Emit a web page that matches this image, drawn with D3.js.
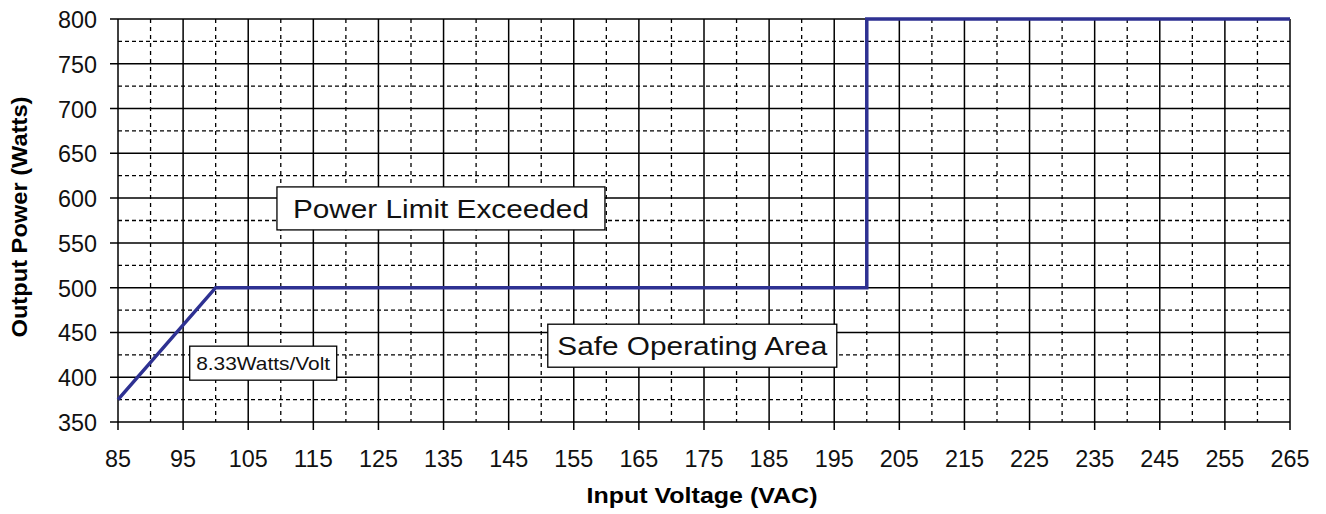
<!DOCTYPE html>
<html>
<head>
<meta charset="utf-8">
<script src="https://cdn.jsdelivr.net/npm/d3@7"></script>
<style>
  body { margin: 0; background: #fff; }
  svg { display: block; font-family: "Liberation Sans", Arial, sans-serif; }
  .tick-label { font-size: 24px; fill: #111; }
  .axis-title { font-size: 22px; font-weight: bold; fill: #000; }
  .note { fill: #111; }
</style>
</head>
<body>
<div id="chart"></div>
<script>
// Output power limit vs input voltage
const voltage = [85, 100, 200, 200, 265];
const power = [375, 500, 500, 800, 800];

const xTicks = [85, 95, 105, 115, 125, 135, 145, 155, 165, 175, 185, 195, 205, 215, 225, 235, 245, 255, 265];
const yTicks = [350, 400, 450, 500, 550, 600, 650, 700, 750, 800];

const noteText = ['Power Limit Exceeded', 'Safe Operating Area', '8.33Watts/Volt'];
const noteX = [134.6, 173.2, 107.3];
const noteY = [588.5, 435.2, 415.7];

// box looks for each note: font size, text length, box width, box height
const noteStyle = [
    { size: 26, len: 296, w: 328, h: 43 },
    { size: 26, len: 270, w: 289, h: 43 },
    { size: 19, len: 134, w: 147, h: 34 }
];

const W = 1326, H = 514;
const margin = { left: 118, right: 36, top: 19, bottom: 92 };
const width = W - margin.left - margin.right;
const height = H - margin.top - margin.bottom;

const svg = d3.select('#chart').append('svg')
    .attr('width', W)
    .attr('height', H);

const g = svg.append('g')
    .attr('transform', `translate(${margin.left},${margin.top})`);

const x = d3.scaleLinear().domain([85, 265]).range([0, width]);
const y = d3.scaleLinear().domain([350, 800]).range([height, 0]);

// minor dashed grid (midpoints between major ticks)
const xMinor = xTicks.slice(0, -1).map(v => v + 5);
const yMinor = yTicks.slice(0, -1).map(v => v + 25);

g.append('g').selectAll('line')
    .data(xMinor).enter().append('line')
    .attr('x1', d => x(d)).attr('x2', d => x(d))
    .attr('y1', 0).attr('y2', height)
    .attr('stroke', '#000').attr('stroke-width', 1.3)
    .attr('stroke-dasharray', '4,4');

g.append('g').selectAll('line')
    .data(yMinor).enter().append('line')
    .attr('y1', d => y(d)).attr('y2', d => y(d))
    .attr('x1', 0).attr('x2', width)
    .attr('stroke', '#000').attr('stroke-width', 1.3)
    .attr('stroke-dasharray', '4,3');

// major solid grid, with ticks sticking out of the axes
g.append('g').selectAll('line')
    .data(xTicks).enter().append('line')
    .attr('x1', d => x(d)).attr('x2', d => x(d))
    .attr('y1', 0).attr('y2', height + 8)
    .attr('stroke', '#000').attr('stroke-width', 1.5);

g.append('g').selectAll('line')
    .data(yTicks).enter().append('line')
    .attr('y1', d => y(d)).attr('y2', d => y(d))
    .attr('x1', -8).attr('x2', width)
    .attr('stroke', '#000').attr('stroke-width', 1.5);

// tick labels
g.append('g').selectAll('text')
    .data(xTicks).enter().append('text')
    .attr('class', 'tick-label')
    .attr('x', d => x(d))
    .attr('y', height + 45)
    .attr('text-anchor', 'middle')
    .attr('textLength', d => String(d).length * 13)
    .attr('lengthAdjust', 'spacingAndGlyphs')
    .text(d => d);

g.append('g').selectAll('text')
    .data(yTicks).enter().append('text')
    .attr('class', 'tick-label')
    .attr('x', -21)
    .attr('y', d => y(d) + 9)
    .attr('text-anchor', 'end')
    .attr('textLength', d => String(d).length * 13)
    .attr('lengthAdjust', 'spacingAndGlyphs')
    .text(d => d);

// limit line
const line = d3.line()
    .x((d, i) => x(voltage[i]))
    .y((d, i) => y(power[i]));

g.append('path')
    .datum(voltage)
    .attr('d', line)
    .attr('fill', 'none')
    .attr('stroke', '#2e3192')
    .attr('stroke-width', 3.5)
    .attr('stroke-linejoin', 'miter');

// annotation boxes
noteText.forEach((txt, i) => {
    const s = noteStyle[i];
    const cx = x(noteX[i]), cy = y(noteY[i]);
    const grp = g.append('g');
    grp.append('rect')
        .attr('x', cx - s.w / 2)
        .attr('y', cy - s.h / 2)
        .attr('width', s.w)
        .attr('height', s.h)
        .attr('fill', '#fff')
        .attr('stroke', '#000')
        .attr('stroke-width', 1.3);
    grp.append('text')
        .attr('class', 'note')
        .attr('x', cx)
        .attr('y', cy + s.size * 0.36)
        .attr('text-anchor', 'middle')
        .attr('textLength', s.len)
        .attr('lengthAdjust', 'spacingAndGlyphs')
        .style('font-size', s.size + 'px')
        .text(txt);
});

// axis titles
svg.append('text')
    .attr('class', 'axis-title')
    .attr('x', 702)
    .attr('y', 503)
    .attr('text-anchor', 'middle')
    .attr('textLength', 231)
    .attr('lengthAdjust', 'spacingAndGlyphs')
    .text('Input Voltage (VAC)');

svg.append('text')
    .attr('class', 'axis-title')
    .attr('transform', `translate(27, 217) rotate(-90)`)
    .attr('text-anchor', 'middle')
    .attr('textLength', 241)
    .attr('lengthAdjust', 'spacingAndGlyphs')
    .text('Output Power (Watts)');
</script>
</body>
</html>
